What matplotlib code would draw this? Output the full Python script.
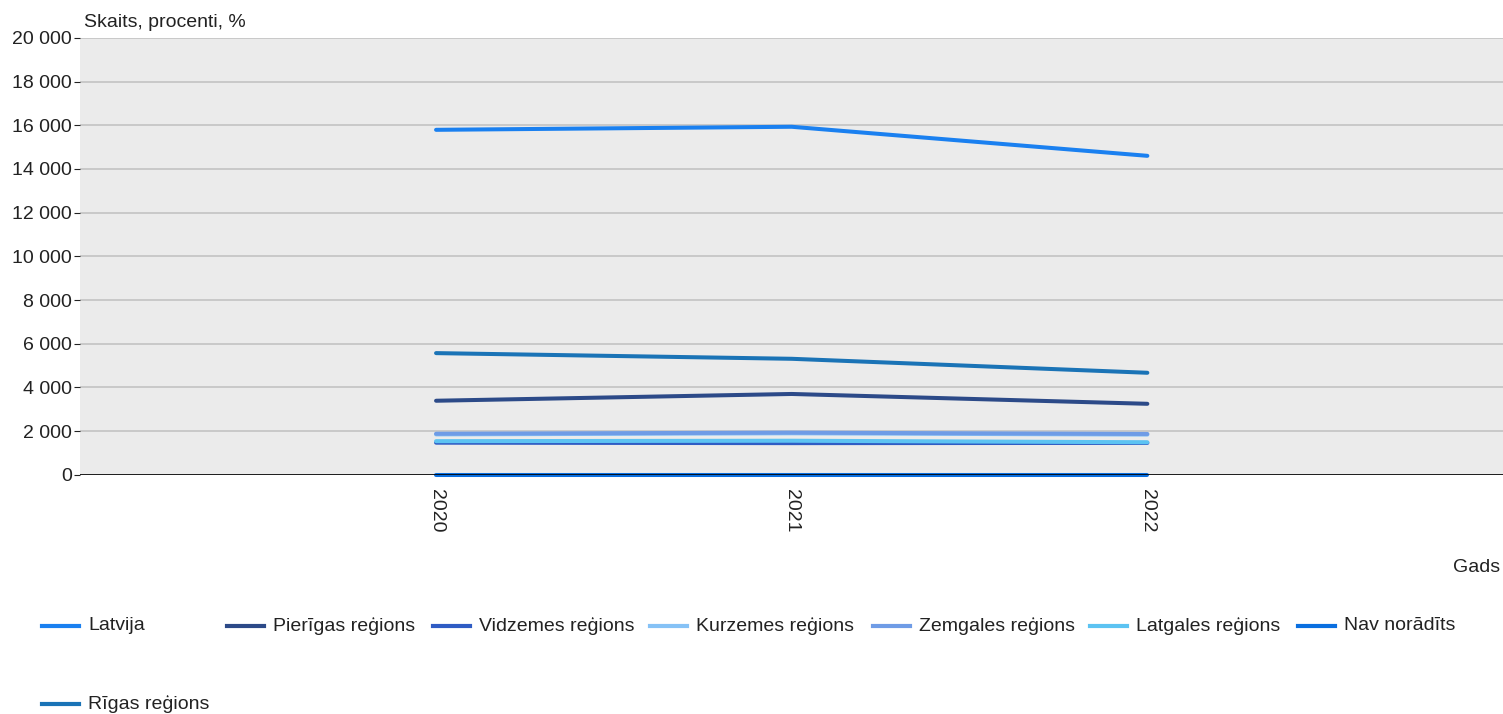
import matplotlib
matplotlib.use("Agg")
import matplotlib.pyplot as plt
import matplotlib.ticker as mticker
from matplotlib.lines import Line2D

plt.rcParams["font.family"] = ["Liberation Sans", "DejaVu Sans"]

# ── data ──────────────────────────────────────────────────────────────────
years = [2020, 2021, 2022]
series_names = [
    "Latvija", "Pierīgas reģions", "Vidzemes reģions", "Kurzemes reģions",
    "Zemgales reģions", "Latgales reģions", "Nav norādīts", "Rīgas reģions",
]
latvija   = [15790, 15930, 14600]
pierigas  = [3390, 3700, 3250]
vidzemes  = [1470, 1450, 1460]
kurzemes  = [1850, 1900, 1840]
zemgales  = [1880, 1930, 1870]
latgales  = [1540, 1560, 1490]
nav       = [0, 0, 0]
rigas     = [5570, 5310, 4670]
values = [latvija, pierigas, vidzemes, kurzemes, zemgales, latgales, nav, rigas]

colors = ["#1a80f0", "#2c4a88", "#2f5cc4", "#86c2f6",
          "#6f9ce6", "#5cc3f2", "#0a6fe0", "#1a73b6"]

BG   = "#ebebeb"
GRID = "#c3c3c3"
TEXT = "#222222"
FS   = 14

fig = plt.figure(figsize=(15.03, 7.14), dpi=100, facecolor="white")
ax = fig.add_axes([0.0535, 0.335, 0.9465, 0.612])
ax.set_facecolor(BG)

ax.axhline(0, color="black", lw=1.2, zorder=4)
for name, vals, col in zip(series_names, values, colors):
    ax.plot(years, vals, color=col, lw=2.9, solid_capstyle="round",
            zorder=3, clip_on=False)

ax.set_xlim(2019, 2023)
ax.set_ylim(0, 20000)
ax.set_xticks(years)
ax.set_xticklabels([str(y) for y in years], rotation=-90, fontsize=FS, color=TEXT)
ax.set_yticks(range(0, 20001, 2000))
ax.yaxis.set_major_formatter(
    mticker.FuncFormatter(lambda v, _: f"{int(v):,}".replace(",", " ")))
ax.tick_params(axis="y", labelsize=FS, colors=TEXT, length=4.5, width=0.8, pad=1.5)
ax.tick_params(axis="x", length=0, pad=10)
ax.yaxis.grid(True, color=GRID, lw=1.2)
ax.set_axisbelow(True)
for s in ax.spines.values():
    s.set_visible(False)

fig.text(0.056, 0.957, "Skaits, procenti, %", fontsize=FS, color=TEXT,
         ha="left", va="bottom")
fig.text(0.998, 0.205, "Gads", fontsize=FS, color=TEXT, ha="right", va="center")

# hand-placed legend rows
leg_x = [0.0279, 0.151, 0.288, 0.4325, 0.581, 0.725, 0.8636, 0.0279]
leg_y = [0.1235, 0.1235, 0.1235, 0.1235, 0.1235, 0.1235, 0.1235, 0.0145]
for name, col, lx, ly in zip(series_names, colors, leg_x, leg_y):
    fig.add_artist(Line2D([lx, lx + 0.0246], [ly, ly], color=col, lw=3.0,
                          transform=fig.transFigure))
    fig.text(lx + 0.0306, ly, name, fontsize=FS, color=TEXT,
             ha="left", va="center")

fig.savefig("out.png", dpi=100, facecolor="white")
